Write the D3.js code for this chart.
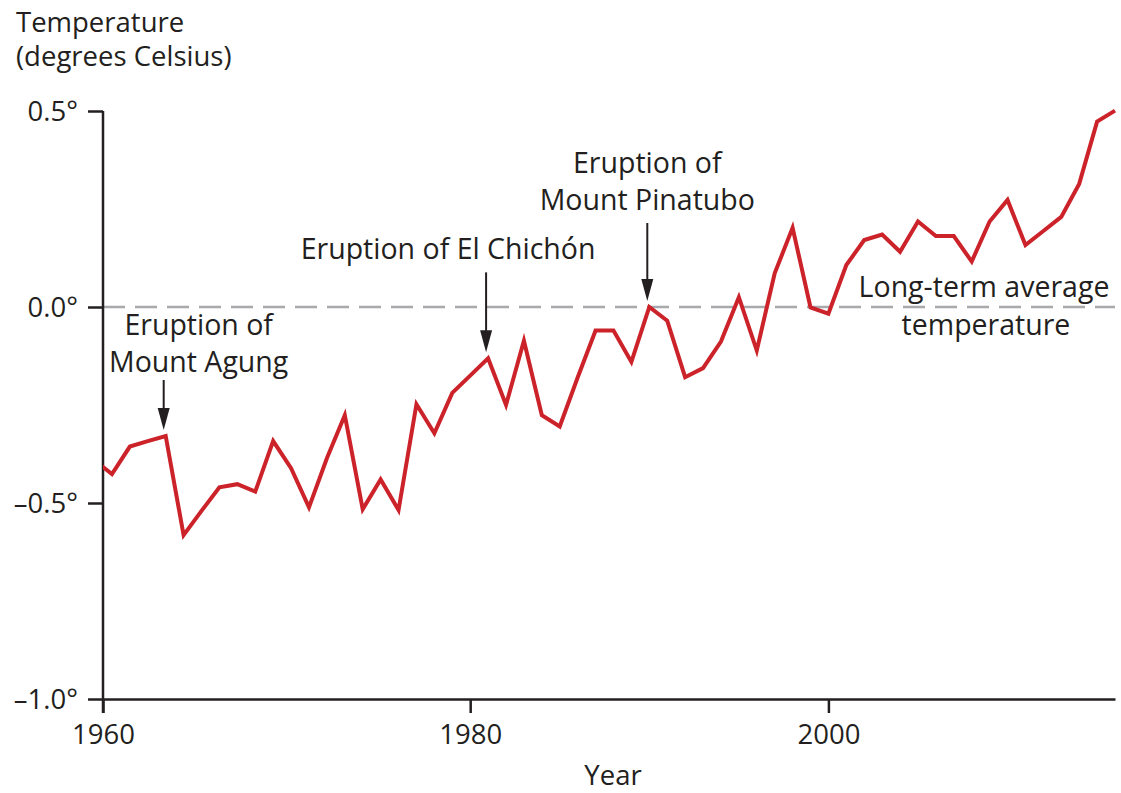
<!DOCTYPE html>
<html>
<head>
<meta charset="utf-8">
<script src="https://cdn.jsdelivr.net/npm/d3@7"></script>
<style>
  body { margin: 0; background: #fff; }
  text { font-family: "Open Sans", "Noto Sans", sans-serif; fill: #231f20; }
</style>
</head>
<body>
<script>
// yearly temperature anomaly (1959 only feeds the clipped start)
var years = [1959, 1960, 1961, 1962, 1963, 1964, 1965, 1966, 1967, 1968, 1969,
             1970, 1971, 1972, 1973, 1974, 1975, 1976, 1977, 1978, 1979,
             1980, 1981, 1982, 1983, 1984, 1985, 1986, 1987, 1988, 1989,
             1990, 1991, 1992, 1993, 1994, 1995, 1996, 1997, 1998, 1999,
             2000, 2001, 2002, 2003, 2004, 2005, 2006, 2007, 2008, 2009,
             2010, 2011, 2012, 2013, 2014, 2015, 2016];
var temps = [-0.39, -0.426, -0.356, -0.342, -0.329, -0.582, -0.52, -0.46, -0.452, -0.471, -0.342,
             -0.411, -0.511, -0.386, -0.276, -0.516, -0.44, -0.518, -0.248, -0.322, -0.219,
             -0.175, -0.131, -0.25, -0.086, -0.276, -0.305, -0.18, -0.06, -0.06, -0.14,
             0.0, -0.035, -0.179, -0.156, -0.088, 0.025, -0.111, 0.086, 0.202, -0.001,
             -0.017, 0.107, 0.171, 0.185, 0.141, 0.218, 0.181, 0.181, 0.116, 0.218,
             0.273, 0.158, 0.194, 0.23, 0.314, 0.473, 0.501];

var yTicks = [-1, -0.5, 0, 0.5];
var xTicks = [1959.5, 1980, 2000];
var xTickLabels = ["1960", "1980", "2000"];

// volcanic eruptions marked with arrows
var eruptionYears = [1963, 1981, 1990];
var eruptionLabels = [["Eruption of", "Mount Agung"], ["Eruption of El Chichón"], ["Eruption of", "Mount Pinatubo"]];

var width = 1121;
var height = 793;
var ink = "#231f20";
var fs = "28.5px";

var svg = d3.select("body").append("svg")
    .attr("width", width)
    .attr("height", height);

var x = d3.scaleLinear().domain([1959.5, 2016]).range([103, 1115]);
var y = d3.scaleLinear().domain([-1, 0.5]).range([699, 111]);

var data = years.map(function(yr, i) { return {year: yr, value: temps[i]}; });

// axis titles
svg.append("text").attr("x", 16).attr("y", 32).style("font-size", "27.5px").text("Temperature");
svg.append("text").attr("x", 16).attr("y", 66).style("font-size", "27.5px").text("(degrees Celsius)");
svg.append("text").attr("x", 613).attr("y", 785).attr("text-anchor", "middle")
    .style("font-size", "27.5px").text("Year");

// long-term average (zero) line
svg.append("line")
    .attr("x1", x.range()[0]).attr("x2", x.range()[1])
    .attr("y1", y(0)).attr("y2", y(0))
    .attr("stroke", "#a7a9ac").attr("stroke-width", 2.5)
    .attr("stroke-dasharray", "22,10");

// y axis
var yAxis = svg.append("g")
    .attr("transform", "translate(" + x.range()[0] + ",0)")
    .call(d3.axisLeft(y).tickValues(yTicks).tickSize(15).tickSizeOuter(0).tickPadding(10)
        .tickFormat(function(d) { return (d < 0 ? "\u2013" : "") + Math.abs(d).toFixed(1) + "\u00b0"; }));
yAxis.select(".domain").remove();
yAxis.selectAll("line").attr("stroke", ink).attr("stroke-width", 2.5);
yAxis.selectAll("text").style("font-size", "27.5px").attr("fill", ink).attr("dy", "0.34em");

// x axis
var xAxis = svg.append("g")
    .attr("transform", "translate(0," + y(-1) + ")")
    .call(d3.axisBottom(x).tickValues(xTicks).tickSize(14).tickSizeOuter(0).tickPadding(11)
        .tickFormat(function(d, i) { return xTickLabels[i]; }));
xAxis.select(".domain").attr("stroke", ink).attr("stroke-width", 2.5);
xAxis.selectAll("line").attr("stroke", ink).attr("stroke-width", 2.5);
xAxis.selectAll("text").style("font-size", "27.5px").attr("fill", ink);

// vertical axis line, runs a little below the x axis
svg.append("line")
    .attr("x1", x.range()[0]).attr("x2", x.range()[0])
    .attr("y1", y(0.5)).attr("y2", y(-1) + 14)
    .attr("stroke", ink).attr("stroke-width", 2.5);

// temperature line
svg.append("clipPath").attr("id", "plotClip")
  .append("rect")
    .attr("x", x.range()[0]).attr("y", 0)
    .attr("width", width - x.range()[0]).attr("height", height);

var line = d3.line()
    .x(function(d) { return x(d.year); })
    .y(function(d) { return y(d.value); });

svg.append("path")
    .datum(data)
    .attr("clip-path", "url(#plotClip)")
    .attr("d", line)
    .attr("fill", "none")
    .attr("stroke", "#cc2229")
    .attr("stroke-width", 4)
    .attr("stroke-linejoin", "miter");

// arrows + labels for eruptions
var arrowLen = [50, 80, 78];
var labelDx = [35, -38, 0];
var labelGap = [8, 13, 13];
eruptionYears.forEach(function(yr, i) {
    var v = temps[years.indexOf(yr)];
    var tipX = x(yr) - 2;
    var tipY = y(v) - 6;
    var topY = tipY - arrowLen[i];
    svg.append("line")
        .attr("x1", tipX).attr("x2", tipX)
        .attr("y1", topY).attr("y2", tipY - 16)
        .attr("stroke", ink).attr("stroke-width", 2);
    svg.append("path")
        .attr("d", "M" + (tipX - 6) + "," + (tipY - 22) + "L" + (tipX + 6) + "," + (tipY - 22) + "L" + tipX + "," + tipY + "Z")
        .attr("fill", ink);
    var lines = eruptionLabels[i];
    lines.forEach(function(t, j) {
        svg.append("text")
            .attr("x", tipX + labelDx[i])
            .attr("y", topY - labelGap[i] - (lines.length - 1 - j) * 37)
            .attr("text-anchor", "middle")
            .style("font-size", fs)
            .text(t);
    });
});

// label for the dashed line
svg.append("text").attr("x", 984).attr("y", 297).attr("text-anchor", "middle")
    .style("font-size", fs).text("Long-term average");
svg.append("text").attr("x", 986).attr("y", 335).attr("text-anchor", "middle")
    .style("font-size", fs).text("temperature");
</script>
</body>
</html>
